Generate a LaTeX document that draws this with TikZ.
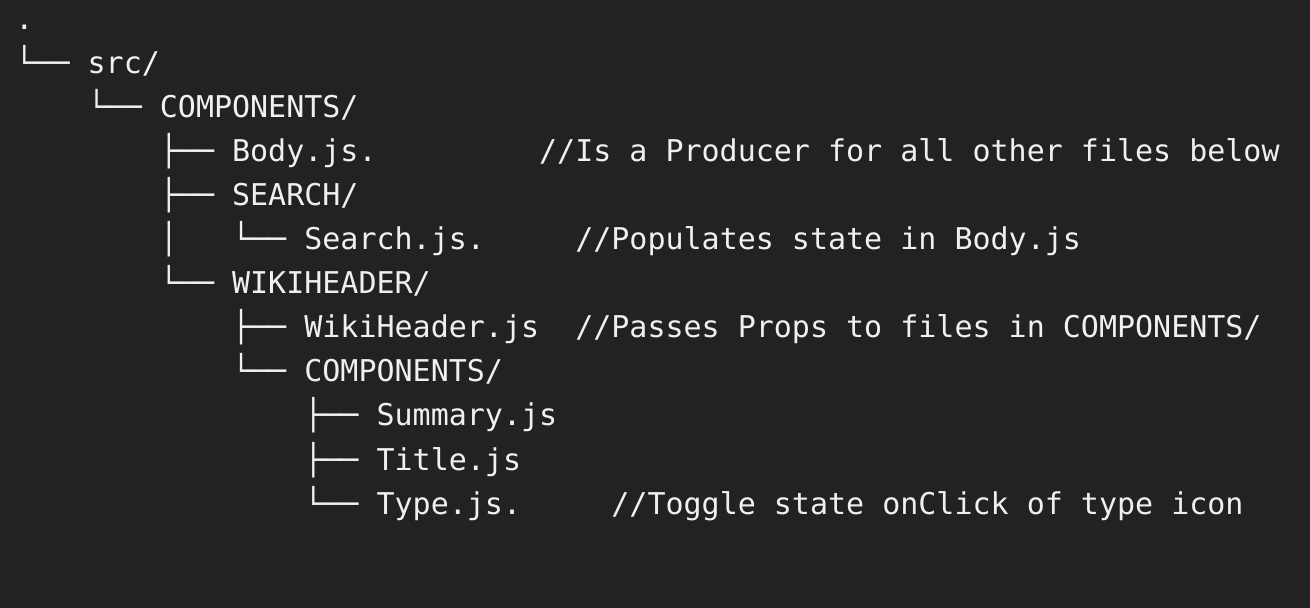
\documentclass[tikz,border=0pt]{standalone}
\usepackage{fontspec}
\setmonofont{DejaVu Sans Mono}
\definecolor{termbg}{HTML}{222222}
\definecolor{termfg}{HTML}{F0F0F0}
\tikzset{
  line/.style = {anchor = base west, inner sep = 0pt, text = termfg,
                 font = \ttfamily\fontsize{15}{22}\selectfont},
  comment/.style = {line}
}

\begin{document}
\begin{tikzpicture}[x = 9.03pt, y = -22pt]

    % one column = one character, one row = one line
    \fill [termbg] (-7.5pt, 15pt) rectangle (647.5pt, -289pt);
    \useasboundingbox (-7.5pt, 15pt) rectangle (647.5pt, -289pt);

    \node [line] (root)       at (0, 0)  {.};
    \node [line] (src)        at (0, 1)  {└── src/};
    \node [line] (comps)      at (4, 2)  {└── COMPONENTS/};
    \node [line] (body)       at (8, 3)  {├── Body.js.};
    \node [line] (search)     at (8, 4)  {├── SEARCH/};
    \node [line] (pipe)       at (8, 5)  {│};
    \node [line] (searchjs)   at (12, 5) {└── Search.js.};
    \node [line] (wiki)       at (8, 6)  {└── WIKIHEADER/};
    \node [line] (wikijs)     at (12, 7) {├── WikiHeader.js};
    \node [line] (subcomps)   at (12, 8) {└── COMPONENTS/};
    \node [line] (summary)    at (16, 9) {├── Summary.js};
    \node [line] (title)      at (16, 10) {├── Title.js};
    \node [line] (type)       at (16, 11) {└── Type.js.};

    % comments
    \node [comment] (bodynote)   at (29, 3)  {//Is a Producer for all other files below};
    \node [comment] (searchnote) at (31, 5)  {//Populates state in Body.js};
    \node [comment] (wikinote)   at (31, 7)  {//Passes Props to files in COMPONENTS/};
    \node [comment] (typenote)   at (33, 11) {//Toggle state onClick of type icon};

\end{tikzpicture}
\end{document}
